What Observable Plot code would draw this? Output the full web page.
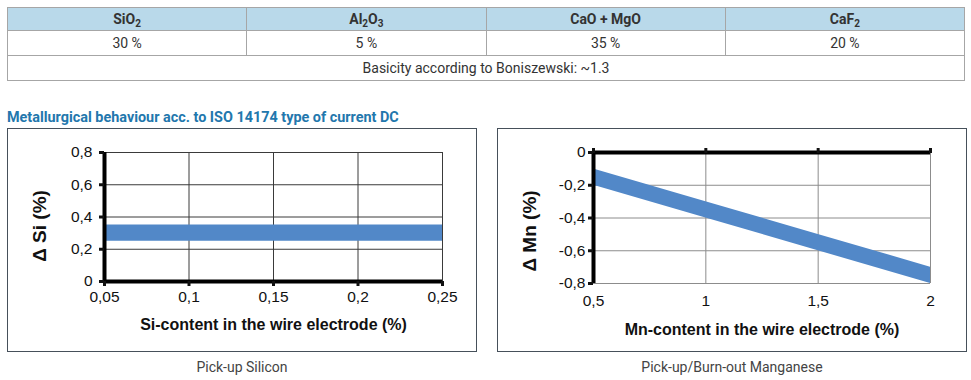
<!DOCTYPE html>
<html>
<head>
<meta charset="utf-8">
<script src="https://cdn.jsdelivr.net/npm/d3@7"></script>
<script src="https://cdn.jsdelivr.net/npm/@observablehq/plot@0.6"></script>
<style>
  html, body { margin: 0; padding: 0; background: #fff; }
  body { width: 971px; height: 380px; position: relative; overflow: hidden; font-family: Roboto, "Liberation Sans", sans-serif; }
  table.comp { position: absolute; left: 7px; top: 7px; width: 958px; border-collapse: collapse; font-size: 14px; color: #333; }
  table.comp td, table.comp th { border: 1px solid #a6a6a6; text-align: center; padding: 0; }
  table.comp th { background: #b9d9ea; font-weight: bold; height: 22px; }
  table.comp td { height: 24px; }
  table.comp sub { font-size: 10px; vertical-align: -3px; line-height: 0; }
  .title { position: absolute; left: 7px; top: 109px; font-size: 14.4px; font-weight: bold; color: #2277ad; }
  .box { position: absolute; top: 128px; width: 468px; height: 222px; border: 1px solid #46505a; background: #fff; }
  .box svg { display: block; }
  .cap { position: absolute; top: 359px; width: 470px; text-align: center; font-size: 14px; color: #444; }
</style>
</head>
<body>
<table class="comp" id="comp"></table>
<div class="title" id="title"></div>
<div class="box" id="siBox" style="left:7px"></div>
<div class="box" id="mnBox" style="left:497px"></div>
<div class="cap" id="siCap" style="left:7px"></div>
<div class="cap" id="mnCap" style="left:497px"></div>
<script>
// ---- Data ----
const components = ["SiO<sub>2</sub>", "Al<sub>2</sub>O<sub>3</sub>", "CaO + MgO", "CaF<sub>2</sub>"];
const shares = ["30 %", "5 %", "35 %", "20 %"];
const basicityText = "Basicity according to Boniszewski: ~1.3";
const chartTitle = "Metallurgical behaviour acc. to ISO 14174 type of current DC";

// Pick-up Silicon
const siX = [0.05, 0.25];
const siLow = [0.25, 0.25];
const siHigh = [0.35, 0.35];
const siXTicks = [0.05, 0.1, 0.15, 0.2, 0.25];
const siYTicks = [0, 0.2, 0.4, 0.6, 0.8];
const siXLabel = "Si-content in the wire electrode (%)";
const siYLabel = "Δ Si (%)";
const siCaption = "Pick-up Silicon";

// Pick-up/Burn-out Manganese
const mnX = [0.5, 1, 1.5, 2];
const mnHigh = [-0.1, -0.3, -0.5, -0.7];
const mnLow = [-0.2, -0.4, -0.6, -0.8];
const mnXTicks = [0.5, 1, 1.5, 2];
const mnYTicks = [0, -0.2, -0.4, -0.6, -0.8];
const mnXLabel = "Mn-content in the wire electrode (%)";
const mnYLabel = "Δ Mn (%)";
const mnCaption = "Pick-up/Burn-out Manganese";

// ---- Table ----
const tbl = document.getElementById("comp");
tbl.innerHTML =
  "<tr>" + components.map(c => `<th style="width:25%">${c}</th>`).join("") + "</tr>" +
  "<tr>" + shares.map(s => `<td>${s}</td>`).join("") + "</tr>" +
  `<tr><td colspan="${components.length}">${basicityText}</td></tr>`;
document.getElementById("title").textContent = chartTitle;
document.getElementById("siCap").textContent = siCaption;
document.getElementById("mnCap").textContent = mnCaption;

const fmt = d => String(d).replace(".", ",");
const band = "#5288c8";
const font = "'Liberation Sans', Arial, sans-serif";

// ---- Silicon chart ----
const siData = siX.map((x, i) => ({x, lo: siLow[i], hi: siHigh[i]}));
const siPlot = Plot.plot({
  width: 468, height: 222,
  marginLeft: 96, marginRight: 34, marginTop: 23, marginBottom: 70,
  x: {domain: [siXTicks[0], siXTicks[siXTicks.length - 1]]},
  y: {domain: [siYTicks[0], siYTicks[siYTicks.length - 1]]},
  style: {fontFamily: font, fontSize: "15.5px", color: "#111", background: "#fff", overflow: "visible"},
  marks: [
    Plot.gridX(siXTicks, {stroke: "#3a3a3a", strokeOpacity: 1}),
    Plot.gridY(siYTicks, {stroke: "#3a3a3a", strokeOpacity: 1}),
    Plot.areaY(siData, {x: "x", y1: "lo", y2: "hi", fill: band}),
    Plot.ruleY([siYTicks[0]], {stroke: "#000", strokeWidth: 4}),
    Plot.ruleX([siXTicks[0]], {stroke: "#000", strokeWidth: 4}),
    Plot.axisX(siXTicks, {tickSize: 5, strokeWidth: 3, tickPadding: 4, tickFormat: fmt, fontSize: 15.5, label: null}),
    Plot.axisY(siYTicks, {tickSize: 5, strokeWidth: 3, tickPadding: 7, tickFormat: fmt, fontSize: 15.5, label: null}),
    Plot.text([siXLabel], {frameAnchor: "bottom", lineAnchor: "middle", textAnchor: "middle", dy: 43, fontWeight: "bold", fontSize: 16, fill: "#111"}),
    Plot.text([siYLabel], {frameAnchor: "left", rotate: -90, textAnchor: "middle", lineAnchor: "middle", dx: -65, dy: 9, fontWeight: "bold", fontSize: 19, fill: "#111"})
  ]
});
document.getElementById("siBox").appendChild(siPlot);

// ---- Manganese chart ----
const mnData = mnX.map((x, i) => ({x, lo: mnLow[i], hi: mnHigh[i]}));
const mnPlot = Plot.plot({
  width: 468, height: 222,
  marginLeft: 95, marginRight: 36, marginTop: 23, marginBottom: 68,
  x: {domain: [mnXTicks[0], mnXTicks[mnXTicks.length - 1]]},
  y: {domain: [mnYTicks[mnYTicks.length - 1], mnYTicks[0]]},
  style: {fontFamily: font, fontSize: "15.5px", color: "#111", background: "#fff", overflow: "visible"},
  marks: [
    Plot.gridX(mnXTicks, {stroke: "#8c8c8c", strokeOpacity: 1}),
    Plot.gridY(mnYTicks, {stroke: "#8c8c8c", strokeOpacity: 1}),
    Plot.areaY(mnData, {x: "x", y1: "lo", y2: "hi", fill: band}),
    Plot.ruleY([mnYTicks[0]], {stroke: "#000", strokeWidth: 4}),
    Plot.ruleX([mnXTicks[0]], {stroke: "#000", strokeWidth: 4}),
    Plot.axisX(mnXTicks, {anchor: "top", tickSize: 5, strokeWidth: 3, tickFormat: () => "", label: null}),
    Plot.axisX(mnXTicks, {anchor: "bottom", tickSize: 0, tickPadding: 11, tickFormat: fmt, fontSize: 15.5, label: null}),
    Plot.axisY(mnYTicks, {tickSize: 5, strokeWidth: 3, tickPadding: 3, tickFormat: fmt, fontSize: 15.5, label: null}),
    Plot.text([mnXLabel], {frameAnchor: "bottom", lineAnchor: "middle", textAnchor: "middle", dy: 46, fontWeight: "bold", fontSize: 16, fill: "#111"}),
    Plot.text([mnYLabel], {frameAnchor: "left", rotate: -90, textAnchor: "middle", lineAnchor: "middle", dx: -64, dy: 13, fontWeight: "bold", fontSize: 19, fill: "#111"})
  ]
});
document.getElementById("mnBox").appendChild(mnPlot);
</script>
</body>
</html>
